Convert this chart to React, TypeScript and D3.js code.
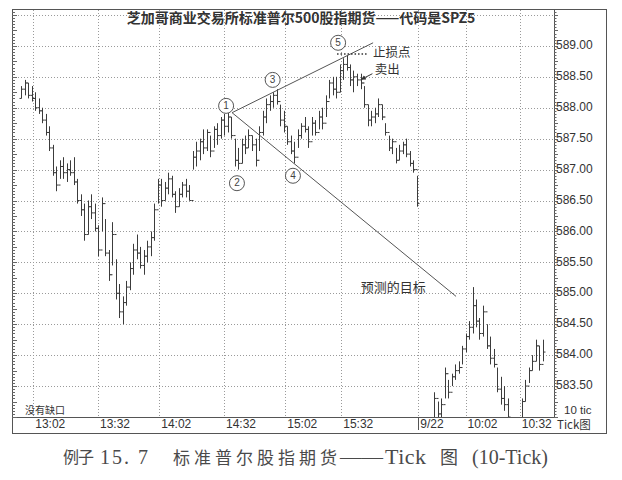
import React from 'react';
import * as d3 from 'd3';

type Bar = [number, number, number, number] | null; // high, low, open, close

// Session 1 (Sept 21 afternoon), 10-tick bars, starting at bar index 0
const session1Start = 0;
const session1: Bar[] = [
  [588.35,588.15,588.15,588.30],[588.45,588.20,588.30,588.40],[588.40,588.15,588.40,588.20],
  [588.35,588.10,588.20,588.15],[588.25,587.95,588.15,588.00],[588.15,587.90,588.00,587.95],
  [588.00,587.75,587.95,587.80],[587.90,587.55,587.80,587.60],[587.70,587.30,587.60,587.35],
  [587.40,586.90,587.35,586.95],[587.05,586.65,586.95,586.75],[587.15,586.85,586.75,587.05],
  [587.20,586.85,587.05,586.95],[587.10,586.80,586.95,587.00],[587.15,586.90,587.00,586.95],
  [587.20,586.75,586.95,586.80],[586.85,586.45,586.80,586.50],[586.60,586.25,586.50,586.35],
  [586.45,585.85,586.35,585.95],[586.50,585.95,585.95,586.40],[586.60,586.20,586.40,586.30],
  [586.45,586.00,586.30,586.05],[586.10,585.60,586.05,585.70],[586.55,586.00,585.70,586.45],
  [586.20,585.60,586.45,585.65],[585.70,585.20,585.65,585.30],[586.15,585.45,585.30,585.95],
  [585.55,584.90,585.95,585.00],[585.15,584.60,585.00,584.70],[584.95,584.50,584.70,584.85],
  [585.20,584.80,584.85,585.10],[585.50,585.05,585.10,585.40],[585.80,585.30,585.40,585.70],
  [585.95,585.55,585.70,585.65],[585.75,585.40,585.65,585.45],[585.70,585.30,585.45,585.60],
  [585.85,585.50,585.60,585.75],[586.00,585.60,585.75,585.90],[586.45,585.85,585.90,586.35],
  [586.85,586.45,586.35,586.75],[586.85,586.40,586.75,586.50],[586.80,586.50,586.50,586.70],
  [586.95,586.60,586.70,586.85],[586.90,586.55,586.85,586.60],[586.65,586.30,586.60,586.40],
  [586.70,586.40,586.40,586.60],[586.80,586.55,586.60,586.75],[586.85,586.55,586.75,586.65],
  [586.75,586.50,586.65,586.50],[587.30,587.00,586.50,587.20],[587.45,587.05,587.20,587.30],
  [587.50,587.15,587.30,587.45],[587.65,587.25,587.45,587.35],[587.65,587.30,587.35,587.60],
  [587.55,587.20,587.60,587.30],[587.70,587.35,587.30,587.65],[587.75,587.40,587.65,587.55],
  [587.85,587.50,587.55,587.80],[587.90,587.55,587.80,587.70],[587.95,587.60,587.70,587.85],
  [587.85,587.50,587.85,587.55],[587.50,587.05,587.55,587.15],[587.35,587.00,587.15,587.10],
  [587.50,587.10,587.10,587.40],[587.55,587.25,587.40,587.35],[587.65,587.35,587.35,587.55],
  [587.55,587.30,587.55,587.40],[587.50,587.05,587.40,587.15],[587.70,587.30,587.15,587.60],
  [587.95,587.55,587.60,587.85],[588.15,587.75,587.85,588.05],[588.20,587.95,588.05,588.10],
  [588.25,588.00,588.10,588.20],[588.30,588.05,588.20,588.10],[588.05,587.70,588.10,587.80],
  [587.95,587.60,587.80,587.70],[587.70,587.40,587.70,587.45],[587.55,587.25,587.45,587.30],
  [587.45,587.10,587.30,587.20],[587.65,587.35,587.20,587.55],[587.75,587.50,587.55,587.70],
  [587.85,587.60,587.70,587.65],[587.70,587.35,587.65,587.45],[587.85,587.55,587.45,587.75],
  [587.80,587.55,587.75,587.60],[587.95,587.65,587.60,587.85],[588.00,587.65,587.85,587.75],
  [588.20,587.85,587.75,588.10],[588.45,588.15,588.10,588.40],[588.50,588.20,588.40,588.30],
  [588.50,588.15,588.30,588.25],[588.70,588.25,588.25,588.60],[588.80,588.45,588.60,588.70],
  [588.85,588.60,588.70,588.65],[588.70,588.35,588.65,588.45],[588.60,588.25,588.45,588.50],
  [588.55,588.35,588.50,588.45],[588.55,588.30,588.45,588.40],[588.35,588.00,588.40,588.05],
  [588.05,587.70,588.05,587.80],[587.95,587.70,587.80,587.85],[588.00,587.75,587.85,587.90],
  [588.15,587.85,587.90,588.05],[588.05,587.80,588.05,587.85],[587.75,587.55,587.85,587.60],
  [587.55,587.30,587.60,587.35],[587.50,587.25,587.35,587.45],[587.35,587.10,587.45,587.15],
  [587.40,587.15,587.15,587.30],[587.45,587.25,587.30,587.40],[587.50,587.20,587.40,587.25],
  [587.30,587.05,587.25,587.10],[587.15,586.95,587.10,587.00],[586.90,586.40,587.00,586.45],
];

// Session 2 (9/22 morning); null = bar entirely below the visible price range
const session2Start = 118;
const session2: Bar[] = [
  [583.40,582.95,582.95,583.30],[583.25,582.95,583.30,583.05],[583.30,582.95,583.05,583.20],
  [583.80,583.30,583.20,583.70],[583.60,583.30,583.70,583.40],[583.70,583.50,583.40,583.65],
  [583.85,583.60,583.65,583.75],[583.90,583.70,583.75,583.80],[584.15,583.85,583.80,584.10],
  [584.35,584.05,584.10,584.30],[584.55,584.25,584.30,584.45],[585.10,584.35,584.45,584.80],
  [584.90,584.45,584.80,584.55],[584.60,584.25,584.55,584.35],[584.80,584.30,584.35,584.70],
  [584.50,584.10,584.70,584.15],[584.30,583.85,584.15,583.95],[584.10,583.80,583.95,583.85],
  [583.80,583.40,583.85,583.45],[583.65,583.20,583.45,583.30],[583.50,583.10,583.30,583.20],
  [583.30,582.95,583.20,583.00],null,null,null,
  [583.30,582.95,582.95,583.25],[583.60,583.25,583.25,583.50],[583.80,583.55,583.50,583.75],
  [584.00,583.75,583.75,583.90],[584.25,583.90,583.90,584.15],[584.15,583.75,584.15,583.85],
  [584.25,583.90,583.85,584.05],
];

const priceLabels = [589.0, 588.5, 588.0, 587.5, 587.0, 586.5, 586.0, 585.5, 585.0, 584.5, 584.0, 583.5];
const gridPrices = [589.5, 589.0, 588.5, 588.0, 587.5, 587.0, 586.5, 586.0, 585.5, 585.0, 584.5, 584.0, 583.5];
const timeTickAt = [3.5, 22, 39.5, 58, 75.5, 91.5, 113.5, 127, 142.5];
const timeTickLabels = ['13:02', '13:32', '14:02', '14:32', '15:02', '15:32', '9/22', '10:02', '10:32'];
const dayBreakAt = 113.5;

const upperTrend: [number, number][] = [[60.3, 587.92], [100.6, 589.05]];
const lowerTrend: [number, number][] = [[60.3, 587.92], [124.3, 584.95]];

const waveNames = ['1', '2', '3', '4', '5'];
const waveAt = [58.6, 61.7, 71.9, 77.7, 90.6];
const wavePrice = [588.03, 586.78, 588.45, 586.9, 589.05];

const stopPrice = 588.87;
const stopFrom = 90.3;
const stopTo = 98.9;

const W = 622;
const H = 480;
const plot = { left: 12, right: 554, top: 10, bottom: 417 };
const frame = { right: 606, bottom: 434 };

const sans = '"Liberation Sans", Arial, "Noto Sans CJK SC", sans-serif';
const cjk = '"Noto Sans CJK SC", "Liberation Sans", sans-serif';
const serif = '"Liberation Serif", "DejaVu Serif", "Noto Sans CJK SC", serif';

export default function App() {
  const x = d3.scaleLinear().domain([0, 149]).range([21, 542.5]);
  const y = d3.scaleLinear().domain([583.0, 589.58]).range([plot.bottom, plot.top]);

  const bars: { i: number; b: [number, number, number, number] }[] = [];
  session1.forEach((b, k) => { if (b) bars.push({ i: session1Start + k, b }); });
  session2.forEach((b, k) => { if (b) bars.push({ i: session2Start + k, b }); });

  const minorTicks = d3.range(0, 132).map((k) => 583.0 + k * 0.05);
  const line = d3.line<[number, number]>().x((d) => x(d[0])).y((d) => y(d[1]));

  const barColor = '#3c3c3c';
  const gridColor = '#9a9a9a';
  const capColor = '#4a4a4a';

  return (
    <svg width={W} height={H} style={{ position: 'absolute', left: 0, top: 0, background: '#fff' }}>
      <defs>
        <clipPath id="plotclip">
          <rect x={plot.left} y={plot.top} width={plot.right - plot.left} height={plot.bottom - plot.top} />
        </clipPath>
        <marker id="arr" viewBox="0 0 6 6" refX="5" refY="3" markerWidth="5" markerHeight="5" orient="auto">
          <path d="M0,0 L6,3 L0,6 z" fill="#333" />
        </marker>
      </defs>
      <rect x={0} y={0} width={W} height={H} fill="#fff" />

      {/* grid */}
      <g stroke={gridColor} strokeWidth={1} strokeDasharray="1,2">
        {gridPrices.map((p) => (
          <line key={'h' + p} x1={plot.left} x2={plot.right} y1={Math.round(y(p)) + 0.5} y2={Math.round(y(p)) + 0.5} />
        ))}
        {timeTickAt.map((t) => (
          <line key={'v' + t} x1={Math.round(x(t)) + 0.5} x2={Math.round(x(t)) + 0.5} y1={plot.top} y2={plot.bottom} />
        ))}
      </g>

      {/* bars */}
      <g clipPath="url(#plotclip)" stroke={barColor} strokeWidth={1}>
        {bars.map(({ i, b }) => {
          const cx = Math.round(x(i)) + 0.5;
          return (
            <g key={i}>
              <line x1={cx} x2={cx} y1={y(b[0])} y2={y(b[1])} />
              <line x1={cx - 2} x2={cx} y1={y(b[2])} y2={y(b[2])} />
              <line x1={cx} x2={cx + 2} y1={y(b[3])} y2={y(b[3])} />
            </g>
          );
        })}
      </g>

      {/* trend lines */}
      <g clipPath="url(#plotclip)" fill="none" stroke="#555" strokeWidth={1}>
        <path d={line(upperTrend) || ''} />
        <path d={line(lowerTrend) || ''} />
      </g>

      {/* stop line and annotations */}
      <line x1={x(stopFrom)} x2={x(stopTo)} y1={y(stopPrice)} y2={y(stopPrice)} stroke="#333" strokeWidth={1.5} strokeDasharray="1.5,2" />
      <text x={x(100.6)} y={y(588.88)} dominantBaseline="middle" fontFamily={cjk} fontSize={12.5} fill="#333">止损点</text>
      <text x={x(101.1)} y={y(588.6)} dominantBaseline="middle" fontFamily={cjk} fontSize={12.5} fill="#333">卖出</text>
      <line x1={x(100.4)} y1={y(588.55)} x2={x(97.3)} y2={y(588.46)} stroke="#333" strokeWidth={1} markerEnd="url(#arr)" />

      <text x={x(97.1)} y={y(585.07)} dominantBaseline="middle" fontFamily={cjk} fontSize={13} fill="#333">预测的目标</text>
      <text x={plot.left + 13} y={plot.bottom - 6} dominantBaseline="middle" fontFamily={cjk} fontSize={10} fill="#333">没有缺口</text>

      {/* wave labels */}
      {waveNames.map((n, k) => (
        <g key={n}>
          <circle cx={x(waveAt[k])} cy={y(wavePrice[k])} r={7.5} fill="#fff" stroke="#555" strokeWidth={1} />
          <text x={x(waveAt[k])} y={y(wavePrice[k]) + 0.5} textAnchor="middle" dominantBaseline="middle" fontFamily={sans} fontSize={10} fill="#444">{n}</text>
        </g>
      ))}

      {/* frame */}
      <rect x={plot.left + 0.5} y={plot.top - 0.5} width={frame.right - plot.left} height={frame.bottom - plot.top} fill="none" stroke="#555" strokeWidth={1} />
      <line x1={plot.right + 0.5} x2={plot.right + 0.5} y1={plot.top} y2={plot.bottom} stroke="#555" />
      <line x1={plot.left} x2={plot.right} y1={plot.bottom + 0.5} y2={plot.bottom + 0.5} stroke="#555" />

      {/* minor ticks */}
      <g stroke="#666" strokeWidth={1}>
        {minorTicks.map((p, k) => (
          <g key={k}>
            <line x1={plot.left} x2={plot.left + (k % 5 === 0 ? 5 : 3)} y1={Math.round(y(p)) + 0.5} y2={Math.round(y(p)) + 0.5} />
            <line x1={plot.right} x2={plot.right + (k % 5 === 0 ? 4 : 2.5)} y1={Math.round(y(p)) + 0.5} y2={Math.round(y(p)) + 0.5} />
          </g>
        ))}
      </g>

      {/* day break */}
      <line x1={Math.round(x(dayBreakAt)) + 0.5} x2={Math.round(x(dayBreakAt)) + 0.5} y1={plot.bottom} y2={plot.bottom + 13} stroke="#555" strokeWidth={1} />

      {/* y labels */}
      {priceLabels.map((p) => (
        <text key={p} x={plot.right + 2} y={y(p)} dominantBaseline="middle" fontFamily={sans} fontSize={12} fill="#333">
          {p.toFixed(2)}
        </text>
      ))}
      <text x={564} y={411} dominantBaseline="middle" fontFamily={sans} fontSize={11.5} fill="#333">10 tic</text>
      <text x={557} y={425.5} dominantBaseline="middle" fontFamily={cjk} fontSize={11.5} fill="#333">Tick图</text>

      {/* x labels */}
      {timeTickAt.map((t, k) => (
        <text key={t} x={x(t) + 2} y={425} dominantBaseline="middle" fontFamily={sans} fontSize={12} fill="#333">
          {timeTickLabels[k]}
        </text>
      ))}

      {/* title */}
      <text x={301} y={19} textAnchor="middle" dominantBaseline="middle" fontFamily={cjk} fontSize={14} fontWeight="bold" fill="#333">
        芝加哥商业交易所标准普尔500股指期货——代码是SPZ5
      </text>

      {/* caption */}
      <g fill={capColor} dominantBaseline="middle">
        <text x={63} y={459} fontFamily={cjk} fontSize={16} letterSpacing={-1}>例子</text>
        <text x={100} y={459} fontFamily={serif} fontSize={20} letterSpacing={2}>15. 7</text>
        <text x={173} y={459} fontFamily={cjk} fontSize={17} letterSpacing={4}>标准普尔股指期货</text>
        <text x={340} y={459} fontFamily={serif} fontSize={20} textLength={43} lengthAdjust="spacingAndGlyphs">——</text>
        <text x={385} y={459} fontFamily={serif} fontSize={22} letterSpacing={0.5}>Tick</text>
        <text x={440} y={459} fontFamily={cjk} fontSize={18}>图</text>
        <text x={472} y={459} fontFamily={serif} fontSize={20}>(10-Tick)</text>
      </g>
    </svg>
  );
}
